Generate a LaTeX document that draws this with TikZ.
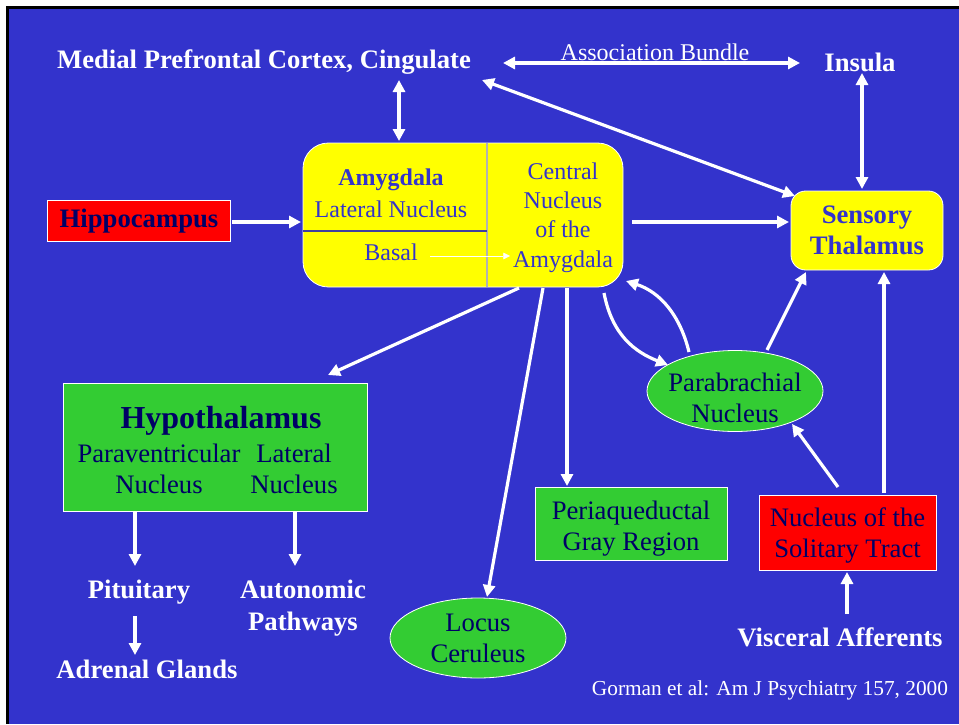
\documentclass[tikz,border=0pt]{standalone}
\usepackage{fontspec}
\setmainfont{Liberation Serif}
\usetikzlibrary{arrows.meta,shapes.geometric,calc}
\definecolor{bgblue}{HTML}{3333CC}
\definecolor{navy}{HTML}{000066}
\definecolor{ylw}{HTML}{FFFF00}
\definecolor{grn}{HTML}{33CC33}
\definecolor{rd}{HTML}{FF0000}
\definecolor{divblue}{HTML}{4040A0}
\tikzset{
  arr/.style={white, line width=2.4pt, -{Triangle[length=9pt,width=9pt]}},
  darr/.style={white, line width=2.4pt, {Triangle[length=9pt,width=9pt]}-{Triangle[length=9pt,width=9pt]}},
  wlbl/.style={text=white, font=\fontsize{20}{23.5}\selectfont\bfseries, align=center, inner sep=0pt},
  wsmall/.style={text=white, align=center, inner sep=0pt},
  ybox/.style={fill=ylw, draw=white, line width=0.6pt, inner sep=0pt},
  gbox/.style={fill=grn, draw=white, line width=0.6pt, inner sep=0pt},
  rbox/.style={fill=rd, draw=white, line width=0.6pt, inner sep=0pt},
  gell/.style={ellipse, fill=grn, draw=white, line width=0.6pt, inner sep=0pt},
  ntxt/.style={text=navy, font=\fontsize{20}{23.5}\selectfont, align=center, inner sep=0pt},
  btxt/.style={text=bgblue, font=\fontsize{18}{22}\selectfont, align=center, inner sep=0pt},
}
\begin{document}
\begin{tikzpicture}[x=0.75pt,y=-0.75pt]
\useasboundingbox (0,0) rectangle (959,724);
% background
\fill[white] (0,0) rectangle (959,724);
\fill[black] (6,6) rectangle (959,724);
\fill[bgblue] (9,9) rectangle (959,724);

% top labels
\node[wlbl] (mpfc) at (264,62) {Medial Prefrontal Cortex, Cingulate};
\node[wsmall, font=\fontsize{18}{21}\selectfont] (assoc) at (655,52) {Association Bundle};
\node[wlbl] (insula) at (860,62) {Insula};

% amygdala
\node[ybox, rounded corners=19pt, minimum width=240pt, minimum height=108pt] (amy) at (463,215) {};
\draw[gray!60, line width=0.8pt] ($(amy.north)+(24,0)$) -- ($(amy.south)+(24,0)$);
\draw[divblue, line width=0.8pt] ($(amy.west)+(0,16)$) -- ($(amy.west)+(184,16)$);
\node[btxt, font=\fontsize{18}{22}\selectfont\bfseries] (amyt) at (391,180) {Amygdala};
\node[btxt] (latn) at (391,209) {Lateral Nucleus};
\node[btxt] (basal) at (391,252) {Basal};
\node[btxt] (cent) at (563,217.5) {Central\\Nucleus\\of the\\Amygdala};
\draw[white, line width=0.4pt, -{Triangle[length=5pt,width=5pt]}] ($(basal)+(39,4)$) -- ($(cent)+(-53,38.5)$);

% hippocampus
\node[rbox, minimum width=137.25pt, minimum height=30.75pt, text=navy, font=\fontsize{20}{23.5}\selectfont\bfseries] (hippo) at (139,221) {Hippocampus};

% sensory thalamus
\node[ybox, rounded corners=11pt, minimum width=114pt, minimum height=59.25pt, text=bgblue, font=\fontsize{20}{23.5}\selectfont\bfseries, align=center] (sens) at (867,230.5) {Sensory\\Thalamus};

% hypothalamus
\node[gbox, minimum width=228pt, minimum height=96pt] (hypo) at (215,447) {};
\node[ntxt, font=\fontsize{24}{28}\selectfont\bfseries] (hypot) at (221,421) {Hypothalamus};
\node[ntxt] (pvn) at (159,469) {Paraventricular\\Nucleus};
\node[ntxt] (latnh) at (294,469) {Lateral\\Nucleus};

% other nodes
\node[gbox, minimum width=144pt, minimum height=54.75pt] (pag) at (631,523.5) {};
\node[ntxt] (pagt) at (631,528.5) {Periaqueductal\\Gray Region};
\node[gell, minimum width=132pt, minimum height=60.75pt] (para) at (735,391) {};
\node[ntxt] (parat) at (735,398) {Parabrachial\\Nucleus};
\node[gell, minimum width=132pt, minimum height=60pt] (locus) at (478,638) {};
\node[ntxt] (locust) at (478,638.5) {Locus\\Ceruleus};
\node[rbox, minimum width=132.75pt, minimum height=56.25pt] (nts) at (847.5,532.5) {};
\node[ntxt] (ntst) at (847.5,535.5) {Nucleus of the\\Solitary Tract};

\node[wlbl] (visc) at (840,637) {Visceral Afferents};
\node[wlbl] (pit) at (139,592) {Pituitary};
\node[wlbl] (auto) at (303,608) {Autonomic\\Pathways};
\node[wlbl] (adr) at (147,669) {Adrenal Glands};
\node[wsmall, font=\fontsize{16}{19}\selectfont] (gorman) at (770,690) {Gorman et al: Am J Psychiatry 157, 2000};

% connectors
\draw[darr] ($(mpfc)+(135,18)$) -- ($(amy)+(-64,-74)$);
\draw[darr] ($(mpfc)+(239,1)$) -- ($(insula)+(-60,1)$);
\draw[darr] ($(mpfc)+(218,18)$) -- ($(sens)+(-72,-34.5)$);
\draw[darr] ($(insula)+(2,11)$) -- ($(sens)+(-5,-41.5)$);
\draw[arr] ($(hippo)+(93,1)$) -- ($(amy)+(-162,7)$);
\draw[arr] ($(amy)+(169,7)$) -- ($(sens)+(-78,-8.5)$);
\draw[arr] ($(amy)+(56,73)$) -- ($(hypo)+(113,-72)$);
\draw[arr] ($(amy)+(80,73)$) -- ($(locus)+(9,-41)$);
\draw[arr] ($(amy)+(104,73)$) -- ($(pag)+(-64,-37.5)$);
\draw[arr] ($(amy)+(141,78)$) .. controls (612,335) and (635,352) .. ($(para)+(-67,-26)$);
\draw[arr] ($(para)+(-46,-39)$) .. controls (680,315) and (660,292) .. ($(amy)+(163,66)$);
\draw[arr] ($(para)+(32,-41)$) -- ($(sens)+(-61,41.5)$);
\draw[arr] ($(nts)+(-9.5,-45.5)$) -- ($(para)+(57,33)$);
\draw[arr] ($(nts)+(36.5,-39.5)$) -- ($(sens)+(17,41.5)$);
\draw[arr] ($(visc)+(7,-23)$) -- ($(nts)+(-0.5,39.5)$);
\draw[arr] ($(hypo)+(-80,65)$) -- ($(pit)+(-4,-26)$);
\draw[arr] ($(hypo)+(80,65)$) -- ($(auto)+(-8,-42)$);
\draw[arr] ($(pit)+(-4,24)$) -- ($(adr)+(-12,-14)$);
\end{tikzpicture}
\end{document}
